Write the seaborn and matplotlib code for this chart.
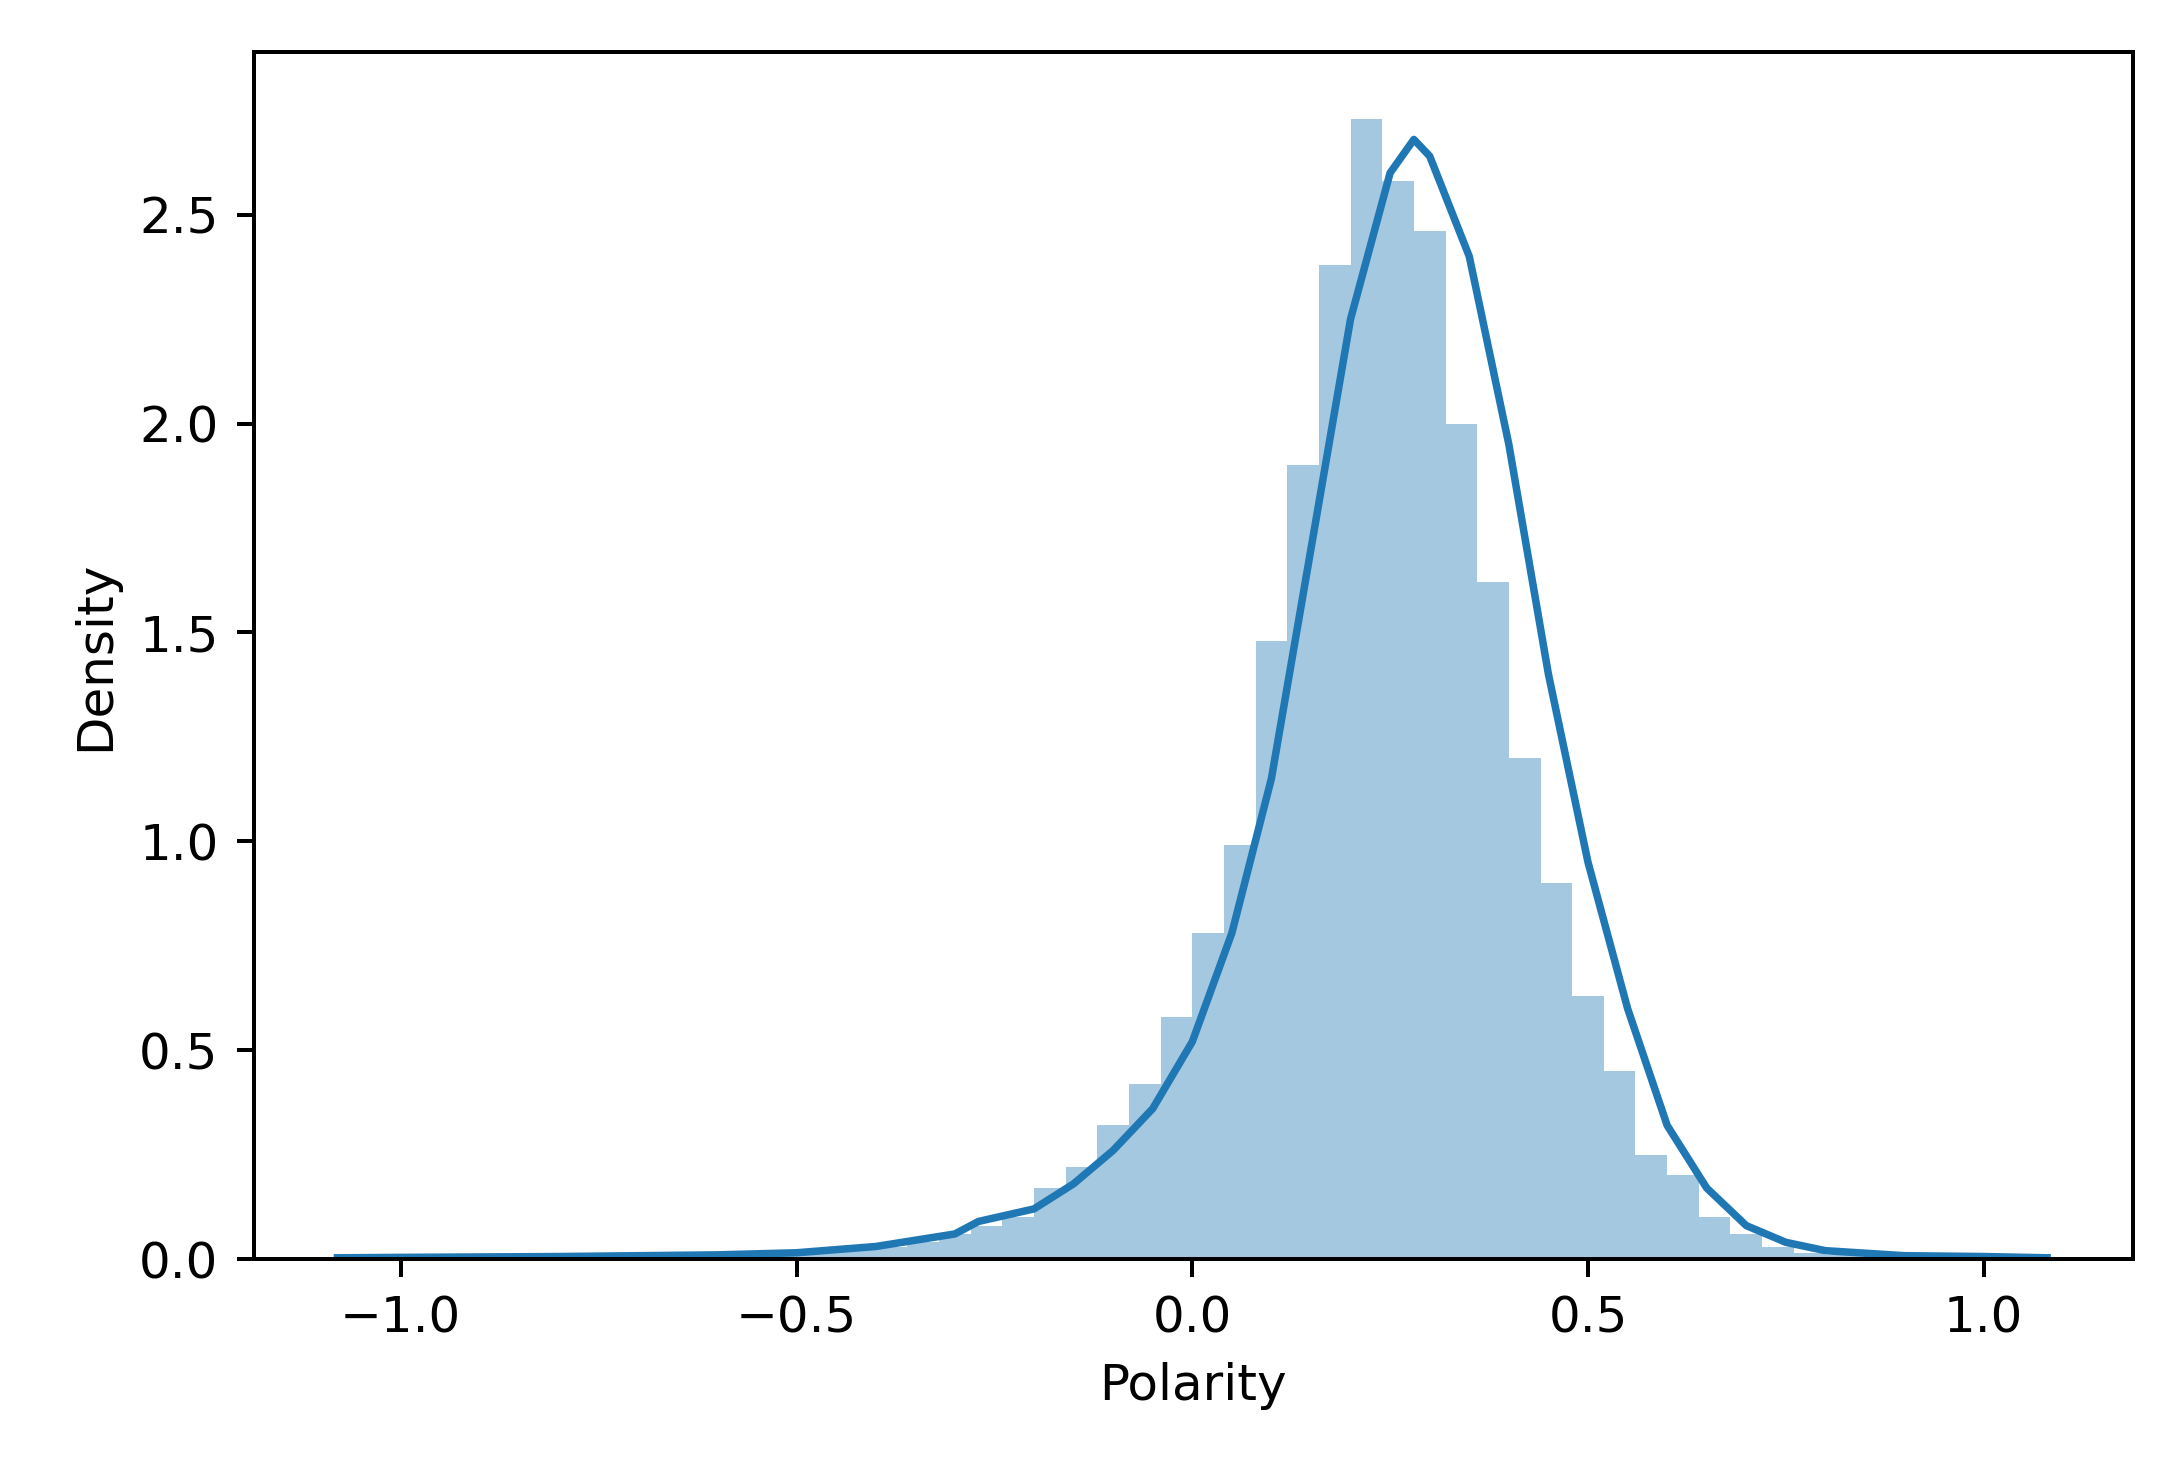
import numpy as np
import pandas as pd
import matplotlib
matplotlib.use("Agg")
import matplotlib.pyplot as plt
import seaborn as sns

# histogram bins of width 0.04 from -1.0 to 1.0, heights
bin_edges = [round(-1.0 + 0.04 * i, 2) for i in range(51)]
bin_heights = [
    0.005, 0.005, 0.005, 0.006, 0.006, 0.007, 0.008, 0.009, 0.010, 0.010,
    0.012, 0.013, 0.015, 0.018, 0.022, 0.030, 0.040, 0.060, 0.080, 0.100,
    0.170, 0.220, 0.320, 0.420, 0.580, 0.780, 0.990, 1.480, 1.900, 2.380,
    2.730, 2.580, 2.460, 2.000, 1.620, 1.200, 0.900, 0.630, 0.450, 0.250,
    0.200, 0.100, 0.060, 0.030, 0.015, 0.010, 0.008, 0.007, 0.006, 0.010,
]
bin_centers = [(a + b) / 2 for a, b in zip(bin_edges[:-1], bin_edges[1:])]

# kde curve
kde_x = [-1.08, -1.0, -0.8, -0.6, -0.5, -0.4, -0.3, -0.27, -0.2, -0.15, -0.1,
         -0.05, 0.0, 0.05, 0.1, 0.15, 0.2, 0.25, 0.28, 0.3, 0.35, 0.4, 0.45,
         0.5, 0.55, 0.6, 0.65, 0.7, 0.75, 0.8, 0.9, 1.0, 1.08]
kde_y = [0.003, 0.004, 0.006, 0.010, 0.015, 0.030, 0.060, 0.090, 0.120, 0.180,
         0.260, 0.360, 0.520, 0.780, 1.150, 1.700, 2.250, 2.600, 2.680, 2.640,
         2.400, 1.950, 1.400, 0.950, 0.600, 0.320, 0.170, 0.080, 0.040, 0.020,
         0.008, 0.006, 0.003]

hist_df = pd.DataFrame({"Polarity": bin_centers, "w": bin_heights})

fig = plt.figure(figsize=(6.02, 4.12), dpi=360)
ax = fig.add_axes([0.117, 0.151, 0.867, 0.814])

sns.histplot(data=hist_df, x="Polarity", weights="w", bins=bin_edges, stat="count",
             color="C0", alpha=0.4, linewidth=0, ax=ax)
sns.lineplot(x=kde_x, y=kde_y, color="C0", linewidth=1.5, ax=ax)

ax.set_xlim(-1.186, 1.188)
ax.set_ylim(0, 2.89)
ax.set_xticks([-1.0, -0.5, 0.0, 0.5, 1.0])
ax.set_yticks([0.0, 0.5, 1.0, 1.5, 2.0, 2.5])
ax.set_xlabel("Polarity")
ax.set_ylabel("Density")

fig.savefig("out.png", dpi=360)
